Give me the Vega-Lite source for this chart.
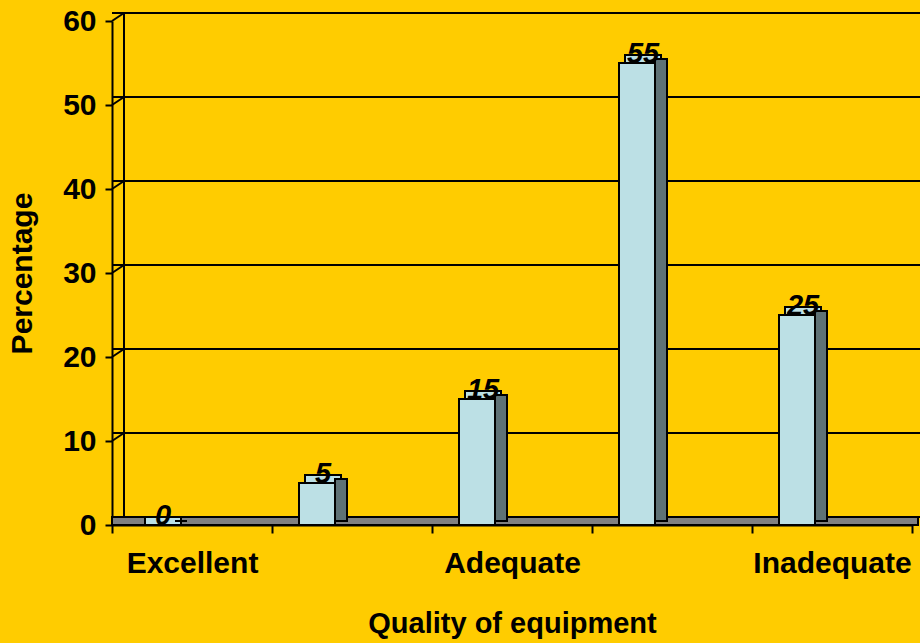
{
  "$schema": "https://vega.github.io/schema/vega-lite/v6.json",
  "width": 800,
  "height": 504,
  "autosize": "none",
  "padding": {"left": 112, "top": 21, "right": 8, "bottom": 118},
  "background": "#FFCC00",
  "config": {
    "view": {"stroke": null},
    "font": "Liberation Sans"
  },
  "data": {
    "values": [
      {"category": "Excellent", "value": 0},
      {"category": "Good", "value": 5},
      {"category": "Adequate", "value": 15},
      {"category": "Less adequate", "value": 55},
      {"category": "Inadequate", "value": 25}
    ]
  },
  "encoding": {
    "x": {
      "field": "category",
      "type": "nominal",
      "sort": null,
      "scale": {"paddingInner": 0, "paddingOuter": 0},
      "axis": {
        "title": "Quality of equipment",
        "titleFontSize": 29,
        "titleFontWeight": "bold",
        "titleColor": "black",
        "titlePadding": 31,
        "labelAngle": 0,
        "labelFontSize": 30,
        "labelFontWeight": "bold",
        "labelColor": "black",
        "labelPadding": 15,
        "labelExpr": "datum.value == 'Excellent' || datum.value == 'Adequate' || datum.value == 'Inadequate' ? datum.label : ''",
        "tickBand": "extent",
        "tickSize": 8,
        "tickWidth": 2,
        "tickColor": "black",
        "domainColor": "black",
        "domainWidth": 2
      }
    }
  },
  "layer": [
    {
      "data": {"values": [{"t": 0}, {"t": 10}, {"t": 20}, {"t": 30}, {"t": 40}, {"t": 50}, {"t": 60}]},
      "mark": {"type": "rule", "color": "black", "strokeWidth": 2, "xOffset": 12, "yOffset": -8},
      "encoding": {
        "x": null,
        "y": {
          "field": "t",
          "type": "quantitative",
          "scale": {"domain": [0, 60], "nice": false},
          "axis": {
            "title": "Percentage",
            "titleFontSize": 30,
            "titleFontWeight": "bold",
            "titleColor": "black",
            "titlePadding": 25,
            "values": [0, 10, 20, 30, 40, 50, 60],
            "labelFontSize": 30,
            "labelFontWeight": "bold",
            "labelColor": "black",
            "labelPadding": 9,
            "tickSize": 7,
            "tickWidth": 2,
            "tickColor": "black",
            "domainColor": "black",
            "domainWidth": 2,
            "grid": false
          }
        }
      }
    },
    {
      "data": {"values": [{"t": 0}, {"t": 10}, {"t": 20}, {"t": 30}, {"t": 40}, {"t": 50}, {"t": 60}]},
      "mark": {"type": "rule", "color": "black", "strokeWidth": 2, "x2Offset": 12, "y2Offset": -8},
      "encoding": {
        "x": {"datum": "Excellent", "type": "nominal", "bandPosition": 0},
        "x2": {"datum": "Excellent", "bandPosition": 0},
        "y": {"field": "t", "type": "quantitative"},
        "y2": {"field": "t"}
      }
    },
    {
      "data": {"values": [{"lo": 0, "hi": 60}]},
      "mark": {"type": "rule", "color": "black", "strokeWidth": 2, "xOffset": 12, "yOffset": -8, "y2Offset": -8},
      "encoding": {
        "x": {"datum": "Excellent", "type": "nominal", "bandPosition": 0},
        "y": {"field": "lo", "type": "quantitative"},
        "y2": {"field": "hi"}
      }
    },
    {
      "data": {"values": [{"lo": 0}]},
      "mark": {"type": "rect", "color": "#808080", "stroke": "black", "strokeWidth": 2, "y2Offset": -8, "xOffset": 6, "x2Offset": 6},
      "encoding": {
        "x": null,
        "y": {"field": "lo", "type": "quantitative"},
        "y2": {"field": "lo"}
      }
    },
    {
      "mark": {"type": "rect", "width": 36, "xOffset": -29, "y2Offset": -8, "color": "#BCE0E5", "stroke": "black", "strokeWidth": 2},
      "encoding": {
        "y": {"field": "value", "type": "quantitative"},
        "y2": {"field": "value"}
      }
    },
    {
      "mark": {"type": "rect", "width": 12, "xOffset": -11, "yOffset": -4, "y2Offset": -4, "color": "#5F7276", "stroke": "black", "strokeWidth": 2},
      "encoding": {
        "y": {"field": "value", "type": "quantitative"},
        "y2": {"datum": 0}
      }
    },
    {
      "mark": {"type": "rect", "width": 36, "xOffset": -35, "color": "#BCE0E5", "stroke": "black", "strokeWidth": 2},
      "encoding": {
        "y": {"field": "value", "type": "quantitative"},
        "y2": {"datum": 0}
      }
    },
    {
      "mark": {"type": "text", "xOffset": -29, "yOffset": -9, "fontSize": 29, "fontWeight": "bold", "fontStyle": "italic", "color": "black", "baseline": "middle"},
      "encoding": {
        "y": {"field": "value", "type": "quantitative"},
        "text": {"field": "value", "type": "quantitative"}
      }
    }
  ]
}
